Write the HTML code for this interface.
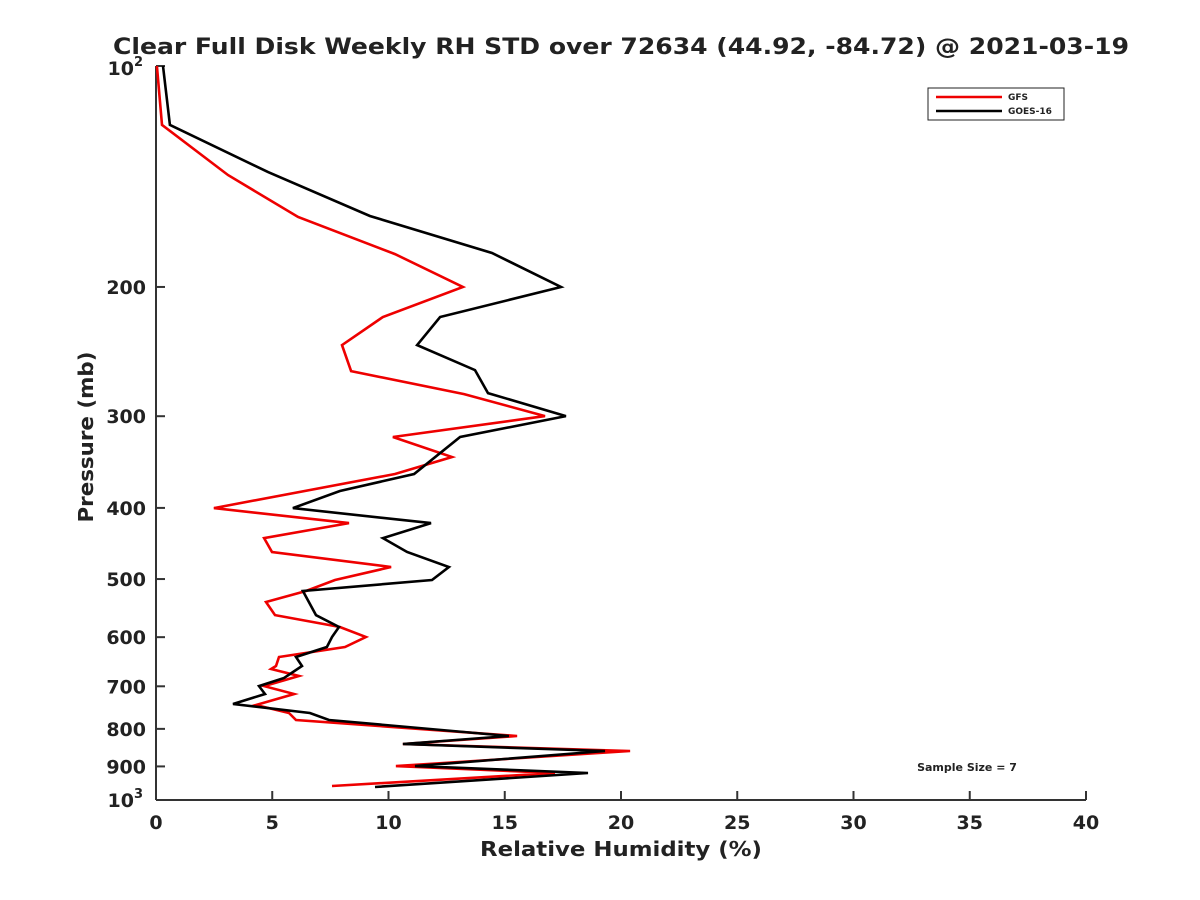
<!DOCTYPE html>
<html><head><meta charset="utf-8"><style>
body{margin:0;background:#fff;}
svg{display:block;font-family:"DejaVu Sans","Liberation Sans",sans-serif;font-weight:bold;}
</style></head><body>
<svg id="chart" width="1200" height="900" viewBox="0 0 1200 900">
<rect width="1200" height="900" fill="#fff"/>
<text x="621" y="54" text-anchor="middle" font-size="22" fill="#222" textLength="1016" lengthAdjust="spacingAndGlyphs">Clear Full Disk Weekly RH STD over 72634 (44.92, -84.72) @ 2021-03-19</text>
<g id="axes"></g>
<g id="series"></g>
<text transform="translate(93,437) rotate(-90)" text-anchor="middle" font-size="20" fill="#222" textLength="171" lengthAdjust="spacingAndGlyphs">Pressure (mb)</text>
<text x="621" y="856" text-anchor="middle" font-size="20" fill="#222" textLength="282" lengthAdjust="spacingAndGlyphs">Relative Humidity (%)</text>
<g>
<rect x="928" y="88" width="136" height="32" fill="#fff" stroke="#222" stroke-width="1"/>
<line x1="936" y1="97" x2="1002" y2="97" stroke="#e00" stroke-width="2.5"/>
<text x="1008" y="100" font-size="9" fill="#222">GFS</text>
<line x1="936" y1="111" x2="1002" y2="111" stroke="#000" stroke-width="2.5"/>
<text x="1008" y="114" font-size="9" fill="#222">GOES-16</text>
</g>
<text x="967" y="771" text-anchor="middle" font-size="11" fill="#222">Sample Size = 7</text>
</svg>
<script>
const xTicks=[0,5,10,15,20,25,30,35,40];
const yTicks=[200,300,400,500,600,700,800,900];
const goesP=[100,120.3,139.5,160.1,179.8,200,219.8,240,259.6,279,299.9,320.2,359.6,379.3,400.2,419.5,439.7,459.4,481.5,501.5,519.1,559.8,581.2,599.7,618.8,638.6,656.9,682.1,699.5,717.2,740,761.2,778,818,838.8,857.5,899,918.8,960];
const goesV=[0.30,0.60,4.82,9.20,14.45,17.42,12.22,11.23,13.72,14.28,17.63,13.08,11.10,7.91,5.89,11.83,9.76,10.80,12.60,11.87,6.32,6.88,7.87,7.57,7.35,6.02,6.28,5.51,4.43,4.69,3.31,6.62,7.44,15.18,10.62,19.31,11.14,18.58,9.42];
const gfsP=[100,120.3,140.8,160.6,180.4,200,219.8,240,260.4,279.9,299.9,320.2,341,359.6,400.2,419.5,439.7,459.4,481.5,501.5,519.1,537.3,559.8,581.2,599.7,618.8,638.6,656.9,663.1,677.8,699.5,717.2,742.2,761.2,778,818,838.8,857.5,899,918.8,957];
const gfsV=[0.04,0.26,3.10,6.11,10.28,13.20,9.76,8.00,8.39,13.25,16.73,10.19,12.73,10.28,2.49,8.30,4.65,4.99,10.11,7.70,6.45,4.73,5.12,7.91,9.03,8.13,5.29,5.16,4.95,6.15,4.65,5.94,4.30,5.72,6.02,15.53,10.62,20.39,10.32,17.16,7.57];
const X0=156,X1=1086,Y0=66,Y1=800;
const xs=v=>X0+(v-0)/(40-0)*(X1-X0);
const ys=p=>Y0+(Math.log10(p)-2)*(Y1-Y0);
const NS='http://www.w3.org/2000/svg';
function mk(t,a,parent){const e=document.createElementNS(NS,t);for(const k in a)e.setAttribute(k,a[k]);parent.appendChild(e);return e;}
const ax=document.getElementById('axes');
let l=mk('line',{x1:X0,y1:Y0,x2:X0,y2:Y1,stroke:'#333','stroke-width':2},ax);


l=mk('line',{x1:X0,y1:Y1,x2:X1,y2:Y1,stroke:'#333','stroke-width':2},ax);


xTicks.forEach(v=>{
  const x=xs(v);
  const t=mk('line',{x1:x,y1:Y1,x2:x,y2:Y1-9,stroke:'#333','stroke-width':2},ax);
  
  
  const tx=mk('text',{x:x,y:Y1+29,'text-anchor':'middle','font-size':19,fill:'#222'},ax);
  tx.textContent=v;
  
  
});
[100,1000].concat(yTicks).forEach(p=>{
  const y=ys(p);
  const t=mk('line',{x1:X0,y1:y,x2:X0+9,y2:y,stroke:'#333','stroke-width':2},ax);
  
  
  const tx=mk('text',{x:X0-10,y:y+7,'text-anchor':'end','font-size':19,fill:'#222'},ax);
  if(p===100||p===1000){
    tx.textContent='10';
    tx.setAttribute('x',X0-22);
    tx.setAttribute('y',y+(p===100?9:7));
    const s=mk('text',{x:X0-22,y:p===100?y:y-2,'font-size':13,fill:'#222'},ax);
    s.textContent=p===100?'2':'3';
    
    
  } else tx.textContent=p;
  
  
});
const sg=document.getElementById('series');
function line(P,V,color,name){
  const pts=P.map((p,i)=>xs(V[i]).toFixed(1)+','+ys(p).toFixed(1)).join(' ');
  const e=mk('polyline',{points:pts,fill:'none',stroke:color,'stroke-width':2.6,'stroke-linejoin':'miter'},sg);
  
  
}
line(gfsP,gfsV,'#e00','gfs-line');
line(goesP,goesV,'#000','goes16-line');
</script>
</body></html>
